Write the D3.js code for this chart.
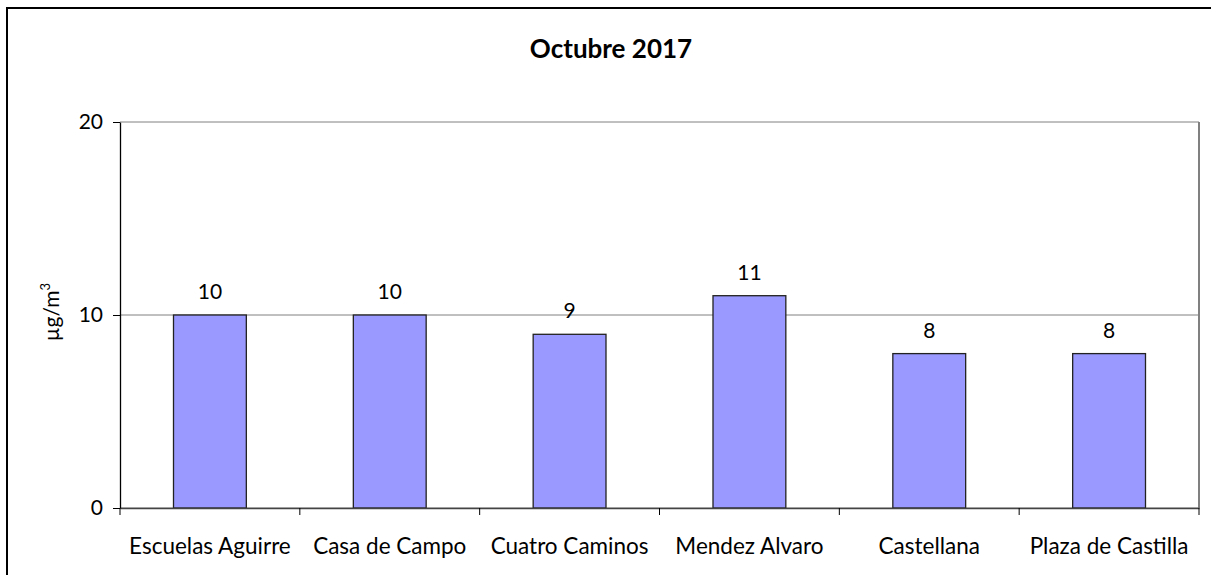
<!DOCTYPE html>
<html>
<head>
<meta charset="utf-8">
<script src="https://cdn.jsdelivr.net/npm/d3@7"></script>
<style>
  body { margin:0; background:#fff; }
  text { font-family: Lato, "Open Sans", sans-serif; fill:#000; }
</style>
</head>
<body>
<svg id="chart" width="1211" height="575"></svg>
<script>
// data
var stations = ["Escuelas Aguirre", "Casa de Campo", "Cuatro Caminos", "Mendez Alvaro", "Castellana", "Plaza de Castilla"];
var values = [10, 10, 9, 11, 8, 8];
var yTicks = [0, 10, 20];

var margin = { left:120, right:12, top:122, bottom:67 };
var width = 1211 - margin.left - margin.right,
    height = 575 - margin.top - margin.bottom;

var svg = d3.select("#chart");

// outer frame
svg.append("rect")
    .attr("x", 7).attr("y", 8)
    .attr("width", 1220).attr("height", 600)
    .attr("fill", "none")
    .attr("stroke", "#000")
    .attr("stroke-width", 2);

// title
svg.append("text")
    .attr("x", 611)
    .attr("y", 58)
    .attr("text-anchor", "middle")
    .attr("font-size", "26px")
    .attr("font-weight", "bold")
    .text("Octubre 2017");

var g = svg.append("g")
    .attr("transform", "translate(" + margin.left + "," + margin.top + ")");

// scales
var x = d3.scaleBand()
    .domain(stations)
    .range([0, width])
    .paddingInner(0.595)
    .paddingOuter(0.2975);

var y = d3.scaleLinear()
    .domain([0, 20])
    .range([height, 0]);

// gridlines
g.selectAll("line.grid")
    .data(yTicks)
    .enter().append("line")
        .attr("class", "grid")
        .attr("x1", 0).attr("x2", width)
        .attr("y1", function(d){ return y(d); })
        .attr("y2", function(d){ return y(d); })
        .attr("stroke", "#808080")
        .attr("stroke-width", 1);

// right border of plot
g.append("line")
    .attr("x1", width).attr("x2", width)
    .attr("y1", 0).attr("y2", height)
    .attr("stroke", "#808080")
    .attr("stroke-width", 2);

// bars
g.selectAll("rect.bar")
    .data(values)
    .enter().append("rect")
        .attr("class", "bar")
        .attr("x", function(d, i){ return x(stations[i]); })
        .attr("y", function(d){ return y(d); })
        .attr("width", x.bandwidth())
        .attr("height", function(d){ return height - y(d); })
        .attr("fill", "#9999FF")
        .attr("stroke", "#222")
        .attr("stroke-width", 1.3);

// value labels
g.selectAll("text.val")
    .data(values)
    .enter().append("text")
        .attr("class", "val")
        .attr("x", function(d, i){ return x(stations[i]) + x.bandwidth() / 2; })
        .attr("y", function(d){ return y(d) - 16; })
        .attr("text-anchor", "middle")
        .attr("font-size", "21px")
        .text(function(d){ return d; });

// X axis
var xAxisCall = d3.axisBottom(x).tickSize(0).tickPadding(30);
var xAxis = g.append("g")
    .attr("transform", "translate(0," + height + ")")
    .call(xAxisCall);
xAxis.select(".domain").attr("stroke", "#444").attr("stroke-width", 1.5);
xAxis.selectAll("text").attr("font-size", "22.5px").attr("font-family", "Lato, sans-serif");

// category separator ticks
var step = x.step();
g.selectAll("line.xtick")
    .data(d3.range(stations.length + 1))
    .enter().append("line")
        .attr("class", "xtick")
        .attr("x1", function(d){ return d * step; })
        .attr("x2", function(d){ return d * step; })
        .attr("y1", height)
        .attr("y2", height + 7)
        .attr("stroke", "#000");

// Y axis
var yAxisCall = d3.axisLeft(y).tickValues(yTicks).tickSize(7).tickPadding(10).tickSizeOuter(0);
var yAxis = g.append("g").call(yAxisCall);
yAxis.select(".domain").attr("stroke", "#000").attr("stroke-width", 1.3);
yAxis.selectAll("text").attr("font-size", "21px").attr("font-family", "Lato, sans-serif");

// Y label
var yl = svg.append("text")
    .attr("transform", "translate(59," + 312 + ") rotate(-90)")
    .attr("text-anchor", "middle")
    .attr("font-size", "21px");
yl.append("tspan").text("µg/m");
yl.append("tspan").attr("font-size", "13px").attr("dy", "-9").text("3");
</script>
</body>
</html>
